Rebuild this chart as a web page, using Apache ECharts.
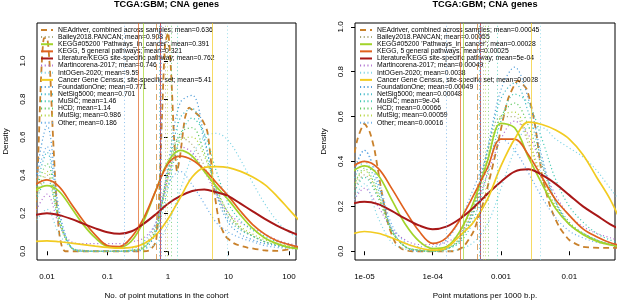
<!DOCTYPE html>
<html>
<head>
<meta charset="utf-8">
<script src="https://cdn.jsdelivr.net/npm/echarts@6/dist/echarts.min.js"></script>
<style>
  html, body { margin: 0; padding: 0; background: #fff; }
  #chart { width: 617px; height: 305px; }
</style>
</head>
<body>
<div id="chart"></div>
<script>
const FONT = 'Liberation Sans';
const titleText = 'TCGA:GBM; CNA genes';

const setNames = [
    'NEAdriver, combined across samples', 'Bailey2018.PANCAN', "KEGG#05200 'Pathways_in_cancer'",
    'KEGG, 5 general pathways', 'Literature/KEGG site-specific pathway', 'Martincorena-2017',
    'IntOGen-2020', 'Cancer Gene Census, site-specific set', 'FoundationOne', 'NetSig5000',
    'MuSiC', 'HCD', 'MutSig', 'Other'
];
const setColors = ['#c9812b', '#a8a878', '#a2d42a', '#e0611e', '#a81818', '#b070d0', '#7fd4e6',
    '#f2cb21', '#4a9ad8', '#40b8c8', '#3cc8b0', '#5cc85c', '#b4d43c', '#6baee8'];
const setTypes = ['dashed', 'dotted', 'solid', 'solid', 'solid', 'dotted', 'dotted',
    'solid', 'dotted', 'dotted', 'dotted', 'dotted', 'dotted', 'dotted'];

const meansLeft = ['0.636', '0.908', '0.391', '0.321', '0.762', '0.746', '9.59', '5.41',
    '0.771', '0.701', '1.46', '1.14', '0.986', '0.186'];
const meansRight = ['0.00045', '0.00055', '0.00028', '0.00025', '5e-04', '0.00049', '0.0038',
    '0.0028', '0.00049', '0.00048', '9e-04', '0.00066', '0.00059', '0.00016'];

// x values are log10 of the quantity
const leftTickExps = [-2, -1, 0, 1, 2];
const leftTickLabels = ['0.01', '0.1', '1', '10', '100'];
const rightTickExps = [-5, -4, -3, -2];
const rightTickLabels = ['1e-05', '1e-04', '0.001', '0.01'];
const densityTicks = [0, 0.2, 0.4, 0.6, 0.8, 1.0];

// ---- left panel: No. of point mutations in the cohort ----
const xLeft = [-2.2, -2.0, -1.8, -1.6, -1.4, -1.2, -1.0, -0.8, -0.6, -0.4, -0.2, 0, 0.2, 0.4, 0.6, 0.8, 1.0, 1.2, 1.4, 1.6, 1.8, 2.0, 2.2];
const neaLeftX = [-2.2, -2.15, -2.1, -2.05, -2.0, -1.95, -1.9, -1.85, -1.8, -1.75, -1.7, -0.4, -0.3, -0.2, -0.15, -0.1, -0.05, 0, 0.05, 0.1, 0.15, 0.2, 0.28, 0.35, 0.45, 0.55, 0.65, 0.72, 0.78, 0.85, 0.95, 1.1, 1.3, 1.6, 1.8, 2.0, 2.2];
const neaLeftY = [0.1, 0.45, 0.9, 1.12, 1.12, 0.95, 0.6, 0.3, 0.1, 0.02, 0, 0, 0.005, 0.05, 0.25, 0.7, 1.08, 1.15, 0.95, 0.6, 0.42, 0.5, 0.7, 0.755, 0.73, 0.7, 0.63, 0.45, 0.28, 0.15, 0.08, 0.04, 0.02, 0.005, 0.002, 0.01, 0.03];
const baileyLeft = [0.26, 0.40, 0.16, 0.02, 0.005, 0, 0, 0, 0.005, 0.03, 0.14, 0.42, 0.6, 0.56, 0.45, 0.3, 0.18, 0.12, 0.08, 0.05, 0.03, 0.02, 0.015];
const kegg05200Left = [0.32, 0.345, 0.315, 0.23, 0.14, 0.07, 0.025, 0.02, 0.055, 0.16, 0.32, 0.47, 0.53, 0.5, 0.42, 0.34, 0.27, 0.19, 0.12, 0.07, 0.04, 0.02, 0.012];
const kegg5Left = [0.35, 0.375, 0.34, 0.25, 0.16, 0.085, 0.03, 0.025, 0.075, 0.175, 0.32, 0.46, 0.5, 0.48, 0.43, 0.36, 0.29, 0.21, 0.14, 0.09, 0.055, 0.035, 0.02];
const literatureLeft = [0.19, 0.2, 0.19, 0.17, 0.145, 0.12, 0.1, 0.092, 0.105, 0.145, 0.195, 0.25, 0.29, 0.317, 0.325, 0.31, 0.29, 0.25, 0.21, 0.17, 0.135, 0.105, 0.08];
const martincorenaLeft = [0.2, 0.3, 0.14, 0.05, 0.04, 0.04, 0.04, 0.04, 0.05, 0.07, 0.15, 0.38, 0.55, 0.52, 0.42, 0.3, 0.2, 0.15, 0.12, 0.09, 0.06, 0.04, 0.03];
const intogenLeft = [0.15, 0.22, 0.09, 0.02, 0, 0, 0, 0, 0, 0.01, 0.04, 0.14, 0.32, 0.5, 0.6, 0.62, 0.58, 0.48, 0.36, 0.25, 0.16, 0.1, 0.06];
const cgcLeft = [0.052, 0.055, 0.05, 0.043, 0.035, 0.027, 0.02, 0.016, 0.02, 0.04, 0.085, 0.17, 0.28, 0.39, 0.44, 0.445, 0.44, 0.42, 0.39, 0.35, 0.29, 0.22, 0.15];
const foundationLeft = [0.35, 0.66, 0.22, 0.02, 0, 0, 0, 0, 0, 0.01, 0.1, 0.45, 0.78, 0.82, 0.6, 0.3, 0.15, 0.09, 0.06, 0.04, 0.03, 0.02, 0.015];
const netsigLeft = [0.3, 0.52, 0.18, 0.02, 0, 0, 0, 0, 0.005, 0.02, 0.12, 0.42, 0.7, 0.75, 0.58, 0.32, 0.17, 0.11, 0.08, 0.05, 0.03, 0.02, 0.015];
const musicLeft = [0.25, 0.38, 0.15, 0.02, 0.005, 0, 0, 0, 0.005, 0.02, 0.1, 0.33, 0.6, 0.7, 0.62, 0.42, 0.25, 0.16, 0.11, 0.08, 0.05, 0.035, 0.025];
const hcdLeft = [0.3, 0.46, 0.18, 0.02, 0, 0, 0, 0, 0.005, 0.02, 0.12, 0.4, 0.62, 0.65, 0.52, 0.33, 0.2, 0.12, 0.08, 0.05, 0.035, 0.025, 0.02];
const mutsigLeft = [0.28, 0.42, 0.16, 0.02, 0, 0, 0, 0, 0.005, 0.02, 0.11, 0.38, 0.58, 0.6, 0.5, 0.33, 0.2, 0.13, 0.09, 0.06, 0.04, 0.03, 0.02];
const otherLeft = [0.35, 0.55, 0.2, 0.02, 0, 0, 0, 0, 0.01, 0.05, 0.15, 0.35, 0.42, 0.35, 0.25, 0.15, 0.1, 0.07, 0.05, 0.03, 0.02, 0.015, 0.01];

// ---- right panel: Point mutations per 1000 b.p. ----
const xRight = [-5.2, -5.0, -4.8, -4.6, -4.4, -4.2, -4.0, -3.8, -3.6, -3.4, -3.2, -3.0, -2.8, -2.6, -2.4, -2.2, -2.0, -1.8, -1.6, -1.4, -1.2];
const neaRightX = [-5.2, -5.1, -5.0, -4.92, -4.85, -4.75, -4.65, -4.55, -4.45, -4.3, -3.7, -3.55, -3.4, -3.23, -3.06, -2.9, -2.75, -2.62, -2.5, -2.4, -2.28, -2.15, -2.0, -1.8, -1.5, -1.2];
const neaRightY = [0.35, 0.5, 0.568, 0.53, 0.45, 0.27, 0.12, 0.04, 0.01, 0, 0, 0.02, 0.09, 0.246, 0.46, 0.675, 0.76, 0.72, 0.56, 0.34, 0.2, 0.11, 0.05, 0.02, 0.015, 0.015];
const baileyRight = [0.24, 0.34, 0.24, 0.09, 0.02, 0.005, 0.005, 0.02, 0.08, 0.22, 0.44, 0.6, 0.6, 0.48, 0.32, 0.2, 0.12, 0.08, 0.05, 0.03, 0.02];
const kegg05200Right = [0.35, 0.38, 0.34, 0.23, 0.12, 0.045, 0.012, 0.02, 0.09, 0.22, 0.4, 0.57, 0.55, 0.42, 0.3, 0.19, 0.12, 0.075, 0.045, 0.028, 0.018];
const kegg5Right = [0.37, 0.4, 0.37, 0.28, 0.18, 0.09, 0.035, 0.06, 0.14, 0.25, 0.37, 0.5, 0.5, 0.43, 0.33, 0.23, 0.16, 0.1, 0.065, 0.038, 0.022];
const literatureRight = [0.21, 0.22, 0.21, 0.18, 0.145, 0.115, 0.098, 0.11, 0.145, 0.195, 0.255, 0.31, 0.355, 0.365, 0.34, 0.3, 0.25, 0.2, 0.16, 0.12, 0.09];
const martincorenaRight = [0.2, 0.28, 0.2, 0.1, 0.05, 0.03, 0.03, 0.04, 0.08, 0.18, 0.34, 0.5, 0.58, 0.52, 0.38, 0.25, 0.16, 0.11, 0.08, 0.06, 0.04];
const intogenRight = [0.2, 0.3, 0.15, 0.04, 0.01, 0, 0, 0, 0.01, 0.04, 0.12, 0.28, 0.45, 0.55, 0.55, 0.5, 0.46, 0.42, 0.36, 0.28, 0.2];
const cgcRight = [0.075, 0.088, 0.08, 0.06, 0.035, 0.015, 0.005, 0.015, 0.07, 0.13, 0.23, 0.38, 0.5, 0.575, 0.565, 0.54, 0.5, 0.43, 0.33, 0.23, 0.1];
const foundationRight = [0.3, 0.45, 0.3, 0.1, 0.02, 0, 0, 0.01, 0.05, 0.18, 0.45, 0.72, 0.82, 0.68, 0.42, 0.22, 0.12, 0.08, 0.05, 0.03, 0.02];
const netsigRight = [0.28, 0.4, 0.28, 0.1, 0.02, 0.005, 0, 0.01, 0.06, 0.2, 0.45, 0.68, 0.75, 0.62, 0.4, 0.22, 0.12, 0.08, 0.05, 0.03, 0.02];
const musicRight = [0.22, 0.33, 0.24, 0.09, 0.02, 0.005, 0, 0.01, 0.04, 0.14, 0.35, 0.58, 0.7, 0.66, 0.5, 0.32, 0.2, 0.13, 0.08, 0.05, 0.03];
const hcdRight = [0.25, 0.37, 0.26, 0.09, 0.02, 0.005, 0, 0.01, 0.05, 0.17, 0.4, 0.6, 0.66, 0.56, 0.38, 0.22, 0.13, 0.08, 0.05, 0.03, 0.02];
const mutsigRight = [0.26, 0.36, 0.25, 0.09, 0.02, 0.005, 0, 0.01, 0.06, 0.2, 0.42, 0.6, 0.62, 0.5, 0.33, 0.2, 0.12, 0.08, 0.05, 0.03, 0.02];
const otherRight = [0.32, 0.45, 0.32, 0.12, 0.04, 0.02, 0.02, 0.05, 0.14, 0.28, 0.42, 0.5, 0.45, 0.35, 0.24, 0.15, 0.09, 0.06, 0.04, 0.03, 0.02];

const leftCurves = [
    [neaLeftX, neaLeftY], [xLeft, baileyLeft], [xLeft, kegg05200Left], [xLeft, kegg5Left],
    [xLeft, literatureLeft], [xLeft, martincorenaLeft], [xLeft, intogenLeft], [xLeft, cgcLeft],
    [xLeft, foundationLeft], [xLeft, netsigLeft], [xLeft, musicLeft], [xLeft, hcdLeft],
    [xLeft, mutsigLeft], [xLeft, otherLeft]
];
const rightCurves = [
    [neaRightX, neaRightY], [xRight, baileyRight], [xRight, kegg05200Right], [xRight, kegg5Right],
    [xRight, literatureRight], [xRight, martincorenaRight], [xRight, intogenRight], [xRight, cgcRight],
    [xRight, foundationRight], [xRight, netsigRight], [xRight, musicRight], [xRight, hcdRight],
    [xRight, mutsigRight], [xRight, otherRight]
];

const dashFor = type => type === 'dashed' ? [6, 4] : type === 'dotted' ? [1.1, 2.6] : 'solid';
const widthFor = (type, i) => type === 'solid' ? (i === 4 ? 2 : 1.7) : type === 'dashed' ? 1.8 : 1.2;

function buildSeries(curves, means, gridIndex) {
    return curves.map(([xs, ys], i) => {
        const type = setTypes[i];
        return {
            type: 'line',
            name: setNames[i] + '; mean=' + means[i],
            xAxisIndex: gridIndex,
            yAxisIndex: gridIndex,
            data: xs.map((x, k) => [x, ys[k]]),
            smooth: i === 0 ? 0.2 : 0.35,
            symbol: 'none',
            showSymbol: false,
            z: type === 'solid' ? 4 : 3,
            lineStyle: { color: setColors[i], width: widthFor(type, i), type: dashFor(type), cap: 'butt' },
            itemStyle: { color: setColors[i] },
            silent: true,
            markLine: {
                silent: true,
                symbol: ['none', 'none'],
                label: { show: false },
                lineStyle: { color: setColors[i], type: dashFor(type), width: 1, opacity: 0.7 },
                data: [{ xAxis: Math.log10(parseFloat(means[i])) }]
            }
        };
    });
}

const baseText = { fontFamily: FONT, color: '#000' };

function xAxisFor(gridIndex, min, max, exps, labels, name) {
    return {
        type: 'value', gridIndex, min, max, name,
        nameLocation: 'middle', nameGap: 32,
        nameTextStyle: { ...baseText, fontSize: 8 },
        axisLine: { show: false },
        splitLine: { show: false },
        axisTick: { show: true, customValues: exps, length: 4, lineStyle: { color: '#000' } },
        axisLabel: {
            customValues: exps, margin: 13, fontSize: 8, ...baseText,
            formatter: v => labels[exps.findIndex(e => Math.abs(e - v) < 1e-9)]
        }
    };
}

function yAxisFor(gridIndex, min, max) {
    return {
        type: 'value', gridIndex, min, max, name: 'Density',
        nameLocation: 'middle', nameGap: 27,
        nameTextStyle: { ...baseText, fontSize: 8 },
        axisLine: { show: false },
        splitLine: { show: false },
        axisTick: { show: true, customValues: densityTicks, length: 4, lineStyle: { color: '#000' } },
        axisLabel: {
            customValues: densityTicks, rotate: 90, margin: 10, fontSize: 8, ...baseText,
            formatter: v => v.toFixed(1)
        }
    };
}

function legendFor(left, means) {
    return {
        left, top: 26.4, orient: 'vertical', padding: 0,
        itemWidth: 12, itemHeight: 7, itemGap: 0,
        selectedMode: false,
        itemStyle: { opacity: 0, borderWidth: 0 },
        textStyle: { ...baseText, fontSize: 6.8, lineHeight: 7.13 },
        data: setNames.map((n, i) => n + '; mean=' + means[i])
    };
}

const chart = echarts.init(document.getElementById('chart'));

const option = {
    animation: false,
    backgroundColor: '#fff',
    title: [
        { text: titleText, left: 166.5, top: 0, textAlign: 'center', padding: 0,
          textStyle: { ...baseText, fontSize: 9.2, fontWeight: 'bold' } },
        { text: titleText, left: 485, top: 0, textAlign: 'center', padding: 0,
          textStyle: { ...baseText, fontSize: 9.2, fontWeight: 'bold' } }
    ],
    legend: [legendFor(40, meansLeft), legendFor(359, meansRight)],
    grid: [
        { left: 37, top: 23, width: 259, height: 243, show: true, borderColor: '#000', borderWidth: 1, backgroundColor: 'transparent' },
        { left: 355, top: 23, width: 260, height: 243, show: true, borderColor: '#000', borderWidth: 1, backgroundColor: 'transparent' }
    ],
    xAxis: [
        xAxisFor(0, -2.165, 2.116, leftTickExps, leftTickLabels, 'No. of point mutations in the cohort'),
        xAxisFor(1, -5.137, -1.331, rightTickExps, rightTickLabels, 'Point mutations per 1000 b.p.')
    ],
    yAxis: [yAxisFor(0, -0.046, 1.2), yAxisFor(1, -0.039, 1.017)],
    series: [...buildSeries(leftCurves, meansLeft, 0), ...buildSeries(rightCurves, meansRight, 1)]
};

chart.setOption(option);
</script>
</body>
</html>
